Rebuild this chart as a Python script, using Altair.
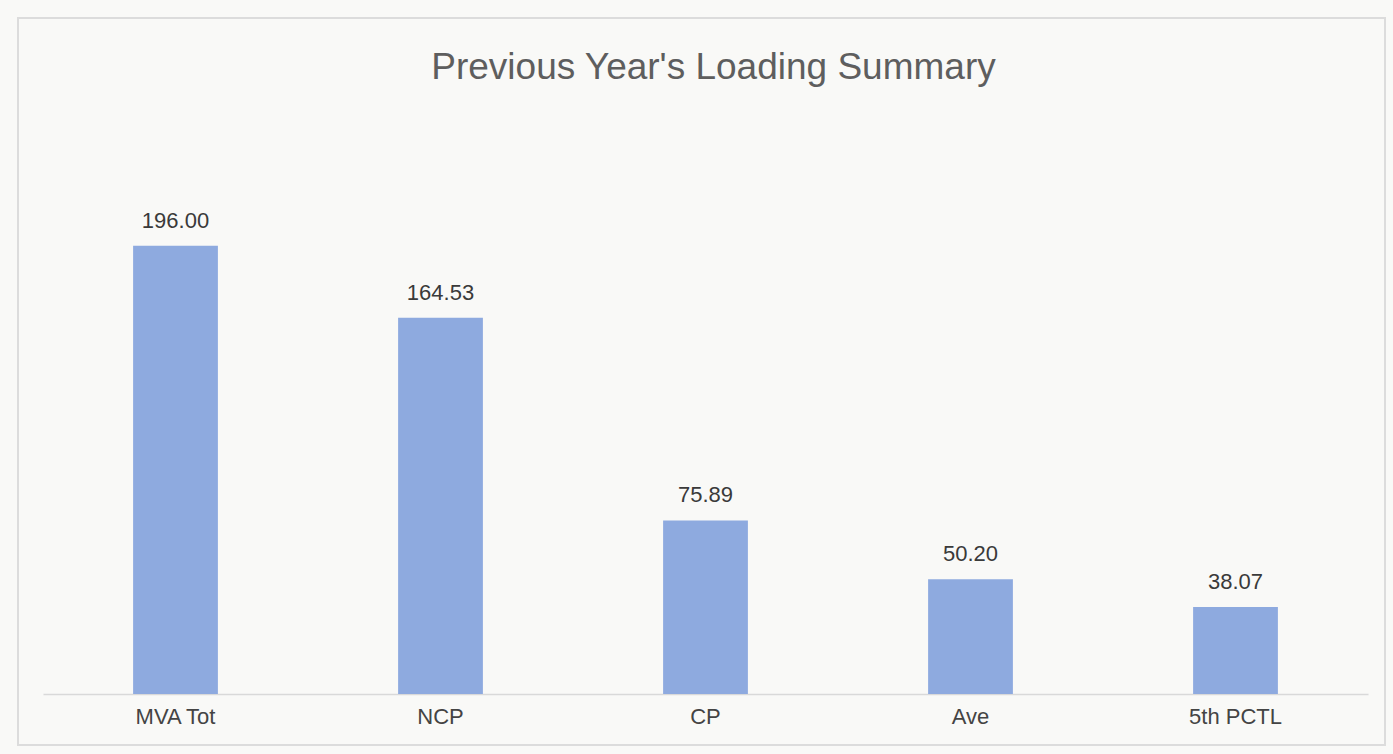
import altair as alt
import pandas as pd

# Loading summary values
categories = ["MVA Tot", "NCP", "CP", "Ave", "5th PCTL"]
values = [196.00, 164.53, 75.89, 50.20, 38.07]
chart_title = "Previous Year's Loading Summary"

df = pd.DataFrame({"category": categories, "value": values})
df["label"] = df["value"].map(lambda v: f"{v:.2f}")

PLOT_W = 1325
PLOT_H = 494

x_enc = alt.X(
    "category:N",
    sort=categories,
    scale=alt.Scale(paddingInner=0.68, paddingOuter=0.34),
    axis=alt.Axis(
        title=None,
        labelAngle=0,
        labelFont="Liberation Sans",
        labelFontSize=22,
        labelColor="#444444",
        labelPadding=12,
        ticks=False,
        domain=True,
        domainColor="#d9d9d9",
        domainWidth=1.5,
    ),
)
y_enc = alt.Y(
    "value:Q",
    scale=alt.Scale(domain=[0, 216], nice=False),
    axis=None,
)

bars = alt.Chart(df).mark_bar(color="#8eaadf").encode(x=x_enc, y=y_enc)

labels = alt.Chart(df).mark_text(
    baseline="alphabetic",
    dy=-18,
    font="Liberation Sans",
    fontSize=22,
    color="#3a3a3a",
).encode(x=alt.X("category:N", sort=categories), y="value:Q", text="label:N")

# faint outer frame around the whole chart
frame = alt.Chart(df).mark_rect(
    fill=None, stroke="#dcdcdc", strokeWidth=1.5, clip=False
).encode(
    x=alt.value(-25),
    x2=alt.value(PLOT_W + 17),
    y=alt.value(-182),
    y2=alt.value(PLOT_H + 51),
)

# chart heading, centred above the bars
heading = alt.Chart(pd.DataFrame({"t": [chart_title]})).mark_text(
    font="Liberation Sans",
    fontSize=37,
    color="#5e5e5e",
    align="center",
    baseline="alphabetic",
    clip=False,
).encode(
    x=alt.value(PLOT_W / 2 + 8),
    y=alt.value(-121),
    text="t:N",
)

chart = (
    alt.layer(frame, bars, labels, heading)
    .properties(
        width=PLOT_W,
        height=PLOT_H,
        autosize=alt.AutoSizeParams(type="none"),
        padding={"left": 43, "top": 200, "right": 25, "bottom": 60},
        background="#f9f9f7",
    )
    .configure_view(stroke=None)
)

chart.save("out.html", embed_options={"renderer": "svg", "actions": False})
